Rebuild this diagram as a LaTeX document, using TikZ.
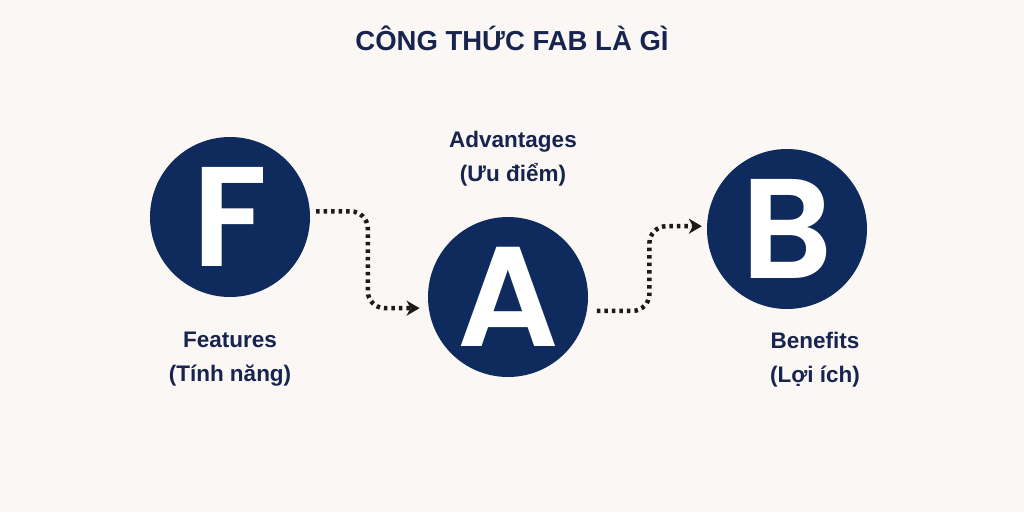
\documentclass[tikz,border=0pt]{standalone}
\usepackage{fontspec}
\setmainfont{Liberation Sans}
\newfontfamily\bigletter{Poppins}[BoldFont={Poppins SemiBold}]
\usetikzlibrary{arrows.meta,calc}
\definecolor{navy}{HTML}{0F2A5C}
\definecolor{txtnavy}{HTML}{16244F}
\definecolor{bgc}{HTML}{FBF7F4}
\definecolor{dotc}{HTML}{1A1A1A}
\tikzset{
  letter/.style={circle, minimum size=160pt, inner sep=0pt, fill=navy, text=white,
    font=\bigletter\bfseries\fontsize{142}{142}\selectfont},
  lbl/.style={text=txtnavy, font=\bfseries\fontsize{22.5}{34}\selectfont, align=center},
  conn/.style={draw=dotc, line width=4.5pt, dash pattern=on 3.5pt off 4pt,
    rounded corners=17pt, -{Stealth[length=13pt,width=15pt,fill=dotc,inset=4pt]}},
}
\begin{document}
\begin{tikzpicture}[x=1pt,y=-1pt]
\fill[bgc] (0,0) rectangle (1024,512);
\useasboundingbox (0,0) rectangle (1024,512);
\node[text=txtnavy, font=\bfseries\fontsize{27.5}{30}\selectfont] (title) at (512,38) {CÔNG THỨC FAB LÀ GÌ};
\node[letter] (F) at (230,217) {F};
\node[letter] (A) at (508,297) {A};
\node[letter] (B) at (787,229) {B};
\node[lbl] (Fl) at (230,359) {Features\\(Tính năng)};
\node[lbl] (Al) at (513,159) {Advantages\\(Ưu điểm)};
\node[lbl] (Bl) at (815,360) {Benefits\\(Lợi ích)};
\coordinate (s1) at ([xshift=6pt]F.4);
\coordinate (e1) at ([xshift=-9pt]A.188);
\coordinate (s2) at ([xshift=10pt]A.-10);
\coordinate (e2) at ([xshift=-5pt]B.178);
\draw[conn] (s1) -| ($(s1)!0.5!(e1)$) |- (e1);
\draw[conn] (s2) -| ($(s2)!0.5!(e2)$) |- (e2);
\end{tikzpicture}
\end{document}
